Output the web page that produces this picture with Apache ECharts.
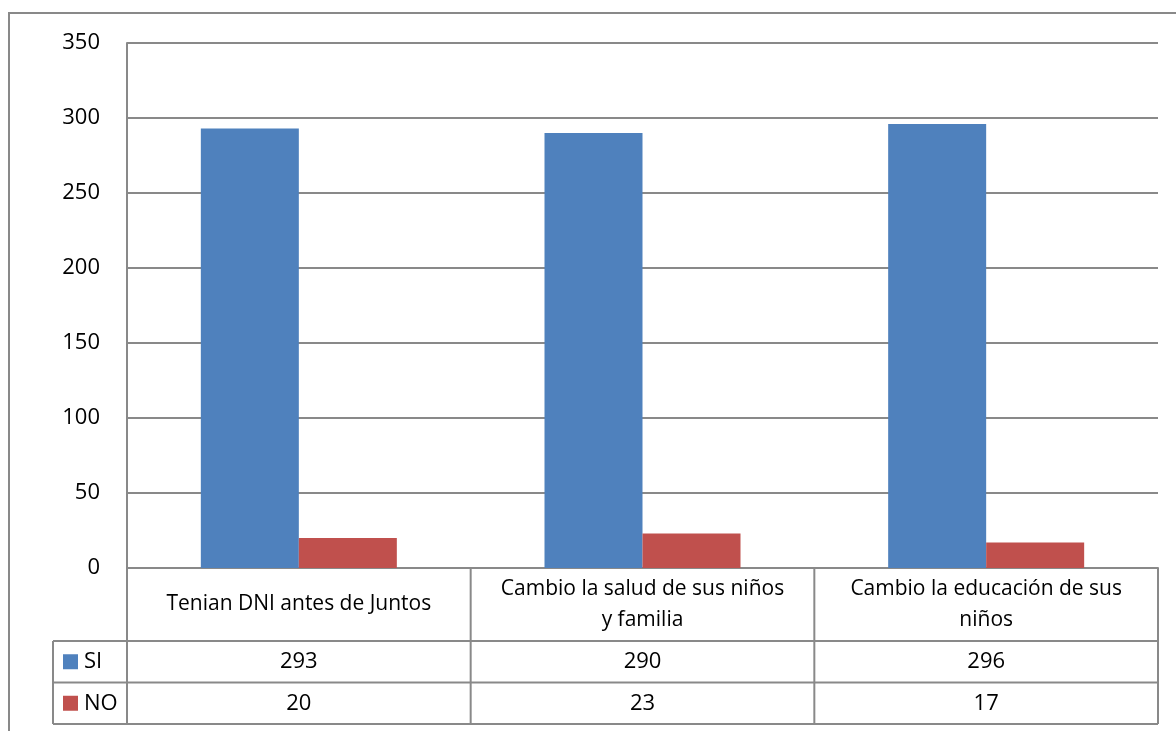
<!DOCTYPE html>
<html>
<head>
<meta charset="utf-8">
<script src="https://cdn.jsdelivr.net/npm/echarts@6/dist/echarts.min.js"></script>
<style>
html,body{margin:0;padding:0;background:#fff;}
#chart{width:1176px;height:731px;}
</style>
</head>
<body>
<div id="chart"></div>
<script>
const categories = ['Tenian DNI antes de Juntos', 'Cambio la salud de sus niños\ny familia', 'Cambio la educación de sus\nniños'];
const seriesNames = ['SI', 'NO'];
const siValues = [293, 290, 296];
const noValues = [20, 23, 17];
const colors = ['#4F81BD', '#C0504D'];
const FONT = '"Open Sans", sans-serif';
const LINE = '#898989';

const chart = echarts.init(document.getElementById('chart'));
const option = {
  animation: false,
  grid: { left: 127, top: 43, right: 18, bottom: 163, containLabel: false },
  xAxis: {
    type: 'category',
    data: categories,
    axisLine: { show: true, lineStyle: { color: LINE, width: 2 } },
    axisTick: { show: false },
    axisLabel: { show: false }
  },
  yAxis: {
    type: 'value',
    min: 0, max: 350, interval: 50,
    axisLine: { show: true, lineStyle: { color: LINE, width: 2 } },
    axisTick: { show: false },
    axisLabel: { color: '#000', fontSize: 22, fontFamily: FONT, margin: 27 },
    splitLine: { lineStyle: { color: LINE, width: 2 } }
  },
  series: [
    { name: seriesNames[0], type: 'bar', data: siValues, itemStyle: { color: colors[0] }, barWidth: 98, barGap: '0%', barCategoryGap: '43%' },
    { name: seriesNames[1], type: 'bar', data: noValues, itemStyle: { color: colors[1] }, barWidth: 98, barGap: '0%' }
  ]
};
chart.setOption(option);

// Build data table below the axis
const gridRect = chart.getModel().getComponent('grid', 0).coordinateSystem.getRect();
const left = gridRect.x, right = gridRect.x + gridRect.width, axisY = gridRect.y + gridRect.height;
const catW = gridRect.width / categories.length;
const headerH = 73, rowH = 41.5;
const legendLeft = 53;
const rows = [siValues, noValues];
const g = [];
const line = (x1, y1, x2, y2) => g.push({ type: 'line', shape: { x1, y1, x2, y2 }, style: { stroke: LINE, lineWidth: 2 }, silent: true });

// outer chart border
g.push({ type: 'rect', shape: { x: 9, y: 13, width: 1200, height: 760 }, style: { fill: null, stroke: LINE, lineWidth: 2 }, silent: true });

const tableBottom = axisY + headerH + rowH * rows.length;
line(left, axisY, left, tableBottom);
for (let i = 1; i <= categories.length; i++) {
  const x = left + catW * i;
  line(x, axisY, x, tableBottom);
}
line(legendLeft, axisY + headerH, legendLeft, tableBottom);
for (let r = 0; r <= rows.length; r++) {
  const y = axisY + headerH + rowH * r;
  line(legendLeft, y, right, y);
}
categories.forEach((c, i) => {
  g.push({ type: 'text', x: left + catW * (i + 0.5), y: axisY + headerH / 2, silent: true,
    style: { text: c, fill: '#000', font: '21px ' + FONT, align: 'center', verticalAlign: 'middle', lineHeight: 31 } });
});
rows.forEach((vals, r) => {
  const cy = axisY + headerH + rowH * (r + 0.5);
  g.push({ type: 'rect', shape: { x: 63, y: cy - 7.5, width: 15, height: 15 }, style: { fill: colors[r] }, silent: true });
  g.push({ type: 'text', x: 84, y: cy, silent: true, style: { text: seriesNames[r], fill: '#000', font: '22px ' + FONT, align: 'left', verticalAlign: 'middle' } });
  vals.forEach((v, i) => {
    g.push({ type: 'text', x: left + catW * (i + 0.5), y: cy, silent: true,
      style: { text: String(v), fill: '#000', font: '22px ' + FONT, align: 'center', verticalAlign: 'middle' } });
  });
});
chart.setOption({ graphic: { elements: g } });
</script>
</body>
</html>
